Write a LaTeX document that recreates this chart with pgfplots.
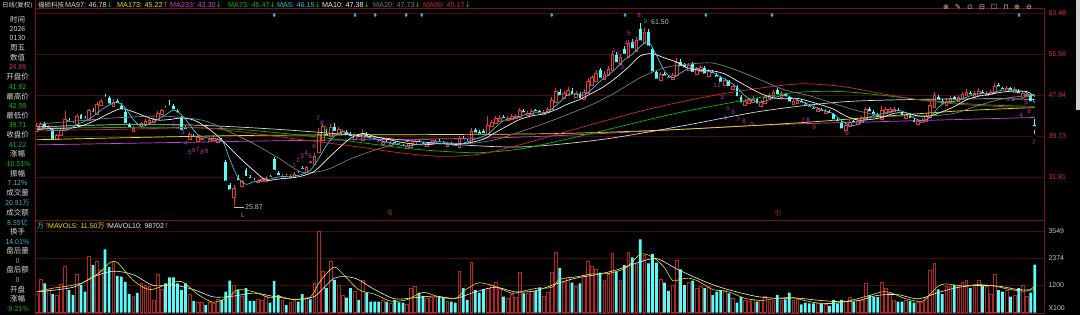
\documentclass[border=0pt]{standalone}
\usepackage{pgfplots}
\pgfplotsset{compat=1.18}
\usepackage{pgfplotstable}
\usepackage{fontspec}
\setmainfont{Liberation Sans}
\newfontfamily\cjk{Noto Sans CJK SC}
\newfontfamily\djv{DejaVu Sans}
\definecolor{candred}{RGB}{230,55,55}
\definecolor{candcyan}{RGB}{84,252,252}
\definecolor{volred}{RGB}{180,36,36}
\definecolor{frame}{RGB}{120,20,20}
\definecolor{gridc}{RGB}{72,12,12}
\definecolor{lblred}{RGB}{215,50,50}
\definecolor{lblgray}{RGB}{192,192,192}
\definecolor{txtw}{RGB}{215,215,215}
\definecolor{txtg}{RGB}{0,200,0}
\definecolor{txtc}{RGB}{60,190,200}
\definecolor{maW}{RGB}{215,215,215}
\definecolor{maY}{RGB}{230,230,0}
\definecolor{maM}{RGB}{210,60,210}
\definecolor{maG}{RGB}{0,190,0}
\definecolor{ma5}{RGB}{60,190,220}
\definecolor{ma10}{RGB}{240,240,240}
\definecolor{ma20}{RGB}{110,130,120}
\definecolor{ma60}{RGB}{210,40,40}
\definecolor{td}{RGB}{190,60,200}
\definecolor{tdr}{RGB}{230,60,100}
\definecolor{diam}{RGB}{70,170,210}

\pgfplotstableread{
i o h l c v
0 40.6 42.2 40.3 41.6 800
1 41.0 42.5 40.8 42.0 1450
3 40.9 41.9 40.6 41.5 980
5 39.0 40.2 38.6 39.8 760
6 39.8 41.3 39.5 40.9 1240
7 40.9 44.5 40.7 43.0 2020
10 41.9 44.0 41.5 43.5 1680
13 42.8 45.0 42.5 44.6 2430
15 44.0 46.3 43.8 45.8 2220
16 45.6 46.8 45.2 46.4 1850
19 45.5 46.8 45.1 46.3 2220
24 40.6 41.6 40.3 41.2 690
26 41.6 42.5 41.3 42.2 1270
27 42.0 43.0 41.8 42.6 1200
28 42.4 43.2 42.1 42.8 1130
29 42.4 43.3 42.2 42.9 550
30 42.9 44.6 42.7 44.2 1680
31 44.0 45.0 43.7 44.6 1000
38 39.0 40.4 38.8 40.0 800
40 38.8 39.9 38.6 39.5 430
41 39.0 39.8 38.7 39.3 430
43 38.8 39.5 38.6 39.1 430
44 38.9 39.9 38.7 39.2 400
45 38.5 39.4 38.2 39.0 580
49 27.9 30.2 25.87 29.6 1200
51 30.0 31.3 29.7 30.9 700
55 30.7 31.4 30.4 31.0 580
56 30.9 31.7 30.6 31.3 550
57 31.0 32.0 30.8 31.6 690
61 31.5 32.3 31.3 31.9 550
63 31.7 32.4 31.5 32.0 430
64 31.8 32.8 31.6 32.4 580
67 32.8 34.0 32.5 33.6 650
69 34.3 36.4 34.0 35.9 1270
70 36.6 41.2 36.2 40.0 3550
71 38.9 42.0 38.5 41.6 1810
73 39.6 42.0 39.3 41.4 2220
75 40.2 41.4 39.8 41.0 1200
76 40.1 41.0 39.8 40.6 760
79 39.0 40.3 38.7 39.8 910
81 38.9 41.0 38.6 40.3 1420
86 38.2 39.0 37.9 38.6 550
88 38.0 38.8 37.7 38.4 400
92 37.3 38.1 37.0 37.7 380
93 37.6 38.7 37.3 38.3 1060
94 38.2 39.2 37.9 38.8 1160
97 37.8 38.6 37.5 38.2 630
98 38.1 38.9 37.8 38.5 670
99 38.3 39.1 38.0 38.7 670
102 37.8 38.6 37.5 38.2 480
105 37.5 39.8 37.3 39.2 1780
108 38.5 41.2 38.3 40.6 2170
112 40.0 43.6 39.8 41.8 1060
113 41.6 42.8 41.3 42.4 1200
114 42.2 43.6 42.0 43.1 1340
115 42.6 43.7 42.3 43.2 1060
117 42.7 43.6 42.4 43.2 630
118 43.0 43.9 42.7 43.5 820
119 43.2 44.0 42.9 43.6 670
120 43.4 45.2 43.1 44.6 1740
122 43.7 44.6 43.4 44.2 840
123 44.0 44.9 43.7 44.5 910
126 43.9 44.8 43.6 44.4 690
127 44.3 45.3 44.0 44.9 870
128 44.8 47.2 44.5 46.6 1740
129 46.3 49.0 46.0 48.4 2620
131 47.0 48.4 46.7 47.9 1340
132 47.6 49.2 47.3 48.6 1530
134 47.3 48.5 47.0 48.0 1130
136 46.8 48.8 46.5 48.2 1640
137 48.0 50.9 47.7 50.2 2220
138 49.6 51.6 49.2 51.0 2030
139 50.3 52.4 50.0 51.8 1880
141 50.6 52.2 50.3 51.6 1420
142 51.4 53.2 51.0 52.6 1680
143 52.4 56.2 52.1 55.6 2570
145 53.5 55.6 53.1 55.0 1420
147 54.9 58.2 54.6 57.6 2620
149 56.0 58.9 55.7 58.2 2110
151 57.6 60.6 57.2 59.8 2500
155 50.4 52.1 50.1 51.6 1450
158 50.6 51.8 50.3 51.4 1200
159 51.4 54.8 51.1 54.0 2260
162 52.4 53.9 52.1 53.4 1340
164 51.6 53.0 51.2 52.6 1060
165 52.3 53.5 52.0 53.0 1130
167 51.3 52.7 51.0 52.2 1130
171 49.6 50.9 49.3 50.4 980
173 48.8 49.8 48.5 49.4 630
176 45.6 46.9 45.3 46.4 550
177 46.0 47.0 45.7 46.6 480
178 46.2 47.4 45.9 46.9 580
180 45.5 46.7 45.2 46.2 550
181 46.0 47.7 45.7 47.2 690
182 47.0 48.1 46.7 47.6 510
183 47.4 48.7 47.1 48.2 550
185 47.3 48.4 47.0 48.0 550
188 45.9 46.8 45.6 46.4 550
189 46.1 47.0 45.8 46.6 580
194 44.5 45.3 44.2 44.9 400
196 44.1 44.9 43.8 44.5 380
201 40.8 42.2 40.5 41.8 480
202 41.6 42.9 41.3 42.4 670
204 41.9 43.0 41.6 42.6 550
205 42.4 43.6 42.1 43.2 550
206 43.0 45.4 42.8 44.8 1270
210 43.0 45.6 42.7 44.6 1340
211 44.2 45.3 43.9 44.8 1060
212 44.4 45.4 44.1 44.9 840
213 44.5 45.3 44.2 44.9 550
216 43.2 44.1 42.9 43.7 550
219 41.9 42.9 41.6 42.5 430
220 42.3 43.2 42.0 42.8 430
221 42.6 44.0 42.3 43.6 670
222 43.4 46.2 43.1 45.6 1850
223 45.2 48.3 44.9 47.6 2140
226 45.6 47.0 45.3 46.5 1160
227 46.3 47.5 46.0 47.0 1130
229 46.4 47.7 46.1 47.2 1130
230 47.0 48.3 46.7 47.8 1340
231 47.5 48.8 47.2 48.2 1420
233 47.3 48.4 47.0 47.9 1200
234 47.6 48.9 47.3 48.4 1390
236 47.5 48.4 47.2 48.0 1130
237 47.8 48.6 47.5 48.2 800
238 48.2 49.9 47.9 49.4 1680
241 48.3 49.3 48.0 48.9 980
243 48.2 49.1 47.9 48.7 760
245 47.2 48.5 46.9 48.0 1200
246 47.4 48.3 47.1 47.87 720
}\up

\pgfplotstableread{
i o h l c v
2 42.0 42.4 40.6 41.0 1270
4 41.0 41.2 38.2 38.6 800
8 42.9 43.2 42.0 42.3 980
9 42.3 42.6 41.6 41.9 760
11 43.7 44.0 42.2 42.6 1190
12 43.2 43.6 42.4 42.7 910
14 44.6 45.2 43.6 44.0 2070
17 47.3 47.9 46.2 46.9 2750
18 47.1 47.5 45.2 45.6 1990
20 46.4 46.9 45.4 45.8 1600
21 45.6 46.0 44.2 44.5 1560
22 44.4 44.7 41.4 41.8 1340
23 41.8 42.2 40.7 41.0 800
25 42.0 42.3 41.2 41.6 860
32 45.2 45.6 44.5 44.8 1270
33 45.6 46.7 44.9 45.2 1530
34 45.6 45.9 44.2 44.5 1530
35 44.6 44.9 43.5 43.9 1270
36 43.4 43.6 40.1 40.5 980
37 41.3 41.7 40.3 40.7 1270
39 39.8 40.1 38.9 39.2 510
42 39.2 39.5 38.6 38.9 330
46 38.9 39.3 38.1 38.4 550
47 34.6 35.0 30.4 30.7 910
48 30.3 30.6 28.6 29.0 1390
50 31.6 32.1 30.4 30.8 980
52 33.2 33.5 31.2 31.6 1060
53 31.8 32.2 30.9 31.2 510
54 31.3 31.6 30.5 30.8 510
58 31.9 32.2 31.2 31.5 430
59 35.3 35.6 32.5 32.8 1380
60 32.6 32.9 31.5 31.8 760
62 32.1 32.4 31.5 31.8 330
65 32.6 32.9 31.9 32.2 480
66 33.6 33.9 32.7 33.0 800
68 34.6 34.9 33.8 34.2 580
72 40.2 41.0 39.0 39.4 1080
74 41.4 42.2 40.0 40.3 1420
77 40.5 40.9 39.4 39.7 650
78 40.1 40.5 38.9 39.3 1060
80 39.7 40.0 38.8 39.1 550
82 40.0 40.4 39.0 39.3 860
83 39.4 39.7 38.6 38.9 480
84 39.0 39.3 38.3 38.6 480
85 38.8 39.0 38.0 38.3 480
87 38.6 38.9 37.8 38.1 480
89 38.5 38.8 37.7 38.0 550
90 38.1 38.4 37.4 37.7 450
91 37.8 38.1 37.1 37.4 430
95 38.8 39.1 37.9 38.2 870
96 38.3 38.6 37.5 37.8 720
100 38.8 39.1 38.0 38.3 670
101 38.4 38.7 37.6 37.9 670
103 38.2 38.5 37.5 37.8 480
104 37.9 38.2 37.2 37.5 430
106 39.4 39.8 38.4 38.7 1060
107 38.8 39.1 38.1 38.4 550
109 40.8 41.2 39.6 40.0 980
110 40.4 40.8 39.5 39.8 870
111 40.6 41.0 39.6 39.9 1010
116 43.4 43.8 42.5 42.8 690
121 44.5 44.9 43.5 43.9 840
124 44.7 45.0 43.8 44.1 950
125 44.5 44.8 43.6 43.9 1100
130 48.3 48.8 46.8 47.2 1930
133 48.5 48.9 47.0 47.4 1300
135 47.9 48.2 46.2 46.6 1270
140 52.4 52.9 50.2 50.6 1740
144 55.4 55.9 53.2 53.6 1780
146 56.6 57.2 54.8 55.2 2070
148 57.8 58.4 55.9 56.3 2400
150 60.4 61.5 57.4 57.8 3180
152 59.9 60.4 56.3 56.8 2140
153 56.6 57.0 51.4 51.8 2550
154 52.0 52.5 50.0 50.4 2170
156 51.7 52.0 50.6 51.0 1300
157 51.2 51.5 50.3 50.6 950
160 54.1 54.6 52.4 52.8 1880
161 53.4 53.8 52.2 52.6 1200
163 53.6 54.0 51.3 51.7 1390
166 52.9 53.3 51.0 51.4 1060
168 52.1 52.4 51.1 51.5 760
169 51.6 51.9 50.5 50.8 910
170 51.0 51.3 49.4 49.8 980
172 50.3 50.6 48.6 49.0 840
174 49.2 49.5 46.6 47.0 430
175 47.2 47.6 45.4 45.8 670
179 46.8 47.1 45.2 45.6 480
184 48.6 49.0 47.0 47.4 760
186 47.8 48.1 46.6 47.0 580
187 47.2 47.5 45.6 46.0 870
190 46.5 46.8 45.5 45.8 360
191 45.9 46.2 45.1 45.4 430
192 45.5 45.8 44.7 45.0 400
193 45.1 45.4 44.3 44.6 400
195 44.8 45.1 43.9 44.2 400
197 44.4 44.7 43.5 43.8 290
198 43.9 44.2 42.2 42.6 550
199 42.8 43.1 41.8 42.2 400
200 42.3 42.6 40.4 40.8 550
203 42.6 42.9 41.6 42.0 480
207 44.9 45.3 43.7 44.1 760
208 44.4 44.7 43.2 43.6 670
209 43.8 44.1 42.6 43.0 670
214 44.8 45.1 43.9 44.2 480
215 44.3 44.6 43.0 43.4 480
217 43.6 43.9 42.4 42.8 510
218 42.9 43.2 41.6 42.0 430
224 47.3 47.6 46.0 46.4 1010
225 46.5 46.8 45.2 45.6 800
228 47.2 47.5 46.0 46.4 1200
232 48.1 48.4 47.0 47.4 1060
235 48.3 48.6 47.2 47.6 1160
239 49.6 49.9 48.5 48.9 980
240 48.9 49.2 48.0 48.4 910
242 48.9 49.2 47.8 48.2 690
244 48.5 48.8 47.2 47.6 1060
247 47.6 47.9 45.7 46.06 870
248 41.82 42.99 39.71 41.22 2091
}\dn

\pgfplotsset{
  pricebox/.style={at={(35pt,95pt)}, anchor=south west, scale only axis,
    width=1009pt, height=212pt, xmin=-0.42, xmax=250.3, ymin=23.49, ymax=64.45},
  volbox/.style={at={(35pt,2pt)}, anchor=south west, scale only axis,
    width=1009pt, height=93pt, xmin=-0.42, xmax=250.3, ymin=-17, ymax=4028},
}

\begin{document}
\begin{tikzpicture}
\fill[black] (0pt,0pt) rectangle (1080pt,315pt);
\useasboundingbox (0pt,0pt) rectangle (1080pt,315pt);

% ---------- price panel: frame, grid, wicks, cyan bodies
\begin{axis}[pricebox,
  axis line style={draw=frame, line width=0.8pt},
  xtick=\empty, ytick={31.81,39.73,47.64,55.56,63.48},
  yticklabels={31.81,39.73,47.64,55.56,63.48},
  yticklabel pos=right, major tick length=0pt,
  yticklabel style={font=\fontsize{7}{8}\selectfont, text=lblred, anchor=west, xshift=1pt},
  ymajorgrids, grid style={gridc, solid, line width=0.5pt}]
\addplot[only marks, mark=none, error bars/.cd, y dir=plus, y explicit, error mark=none,
  error bar style={draw=candred, line width=0.7pt, solid}]
  table[x=i, y=l, y error expr=\thisrow{h}-\thisrow{l}] {\up};
\addplot[only marks, mark=none, error bars/.cd, y dir=plus, y explicit, error mark=none,
  error bar style={draw=candcyan, line width=0.7pt, solid}]
  table[x=i, y=l, y error expr=\thisrow{h}-\thisrow{l}] {\dn};
\addplot[only marks, mark=none, error bars/.cd, y dir=plus, y explicit, error mark=none,
  error bar style={draw=candcyan, line width=2.8pt, solid}]
  table[x=i, y=c, y error expr=\thisrow{o}-\thisrow{c}] {\dn};
\end{axis}

% ---------- hollow red bodies
\begin{axis}[pricebox, hide axis, ybar stacked, bar width=0.68]
\addplot[draw=none, fill=none] table[x=i, y=o] {\up};
\addplot[draw=candred, fill=black, line width=0.5pt] table[x=i, y expr=\thisrow{c}-\thisrow{o}] {\up};
\end{axis}

% ---------- moving averages and event markers
\begin{axis}[pricebox, hide axis]
\addplot[maM, line width=0.7pt, smooth] coordinates {(0,38.0)(60,38.8)(120,39.5)(180,41.8)(210,42.5)(248,43.30)};
\addplot[maY, line width=0.7pt, smooth] coordinates {(0,39.0)(50,39.8)(100,40.0)(130,40.2)(160,41.0)(190,42.3)(210,43.5)(230,44.6)(248,45.22)};
\addplot[maW, line width=0.7pt, smooth] coordinates {(0,41.5)(20,41.9)(40,41.8)(60,41.0)(80,39.8)(100,38.3)(120,37.6)(140,39.0)(160,41.6)(180,44.5)(200,46.3)(220,46.8)(240,46.9)(248,46.78)};
\addplot[maG, line width=0.7pt, smooth] coordinates {(0,41.2)(30,41.4)(50,41.0)(70,39.5)(90,37.5)(100,36.8)(110,36.5)(120,37.2)(130,38.8)(140,40.6)(150,42.5)(160,44.3)(170,45.8)(180,47.2)(190,48.2)(200,48.3)(210,47.6)(220,46.7)(230,46.0)(240,45.6)(248,45.47)};
\addplot[ma60, line width=0.7pt, smooth] coordinates {(0,40.8)(20,41.0)(40,41.3)(50,40.6)(60,39.6)(70,38.6)(80,37.6)(90,36.5)(100,35.8)(110,36.2)(120,38.0)(130,40.2)(140,42.4)(150,44.5)(160,46.3)(170,47.8)(180,49.0)(190,49.8)(200,49.3)(210,47.9)(220,46.6)(230,45.8)(240,45.4)(248,45.17)};
\addplot[ma20, line width=0.7pt, smooth] coordinates {(0,42.0)(8,42.5)(14,42.9)(19,43.2)(24,43.4)(30,43.6)(36,43.3)(42,42.6)(48,40.5)(54,38.2)(60,35.5)(66,32.7)(72,33.2)(78,35.3)(84,37.0)(90,38.3)(96,39.1)(102,38.4)(108,38.3)(114,39.0)(120,40.5)(126,42.1)(132,43.9)(138,45.8)(144,48.2)(150,51.0)(156,52.9)(162,53.6)(168,53.8)(174,52.4)(180,50.5)(186,48.6)(192,47.5)(198,46.0)(204,44.6)(210,43.6)(216,43.6)(222,43.6)(228,44.1)(234,45.6)(240,46.9)(248,47.73)};
\addplot[ma10, line width=0.7pt, smooth] coordinates {(0,41.0)(4,41.2)(9,41.3)(12,41.9)(15,42.9)(18,44.1)(21,45.0)(24,44.4)(27,43.5)(30,42.8)(33,42.9)(36,43.2)(39,42.8)(42,41.5)(45,39.7)(48,37.4)(51,35.1)(54,33.0)(57,31.2)(60,31.4)(63,31.6)(66,32.0)(69,32.9)(72,35.1)(75,37.3)(78,39.3)(81,40.2)(84,39.6)(87,39.1)(90,38.6)(93,38.2)(96,38.0)(99,38.2)(102,38.2)(105,38.2)(108,38.5)(111,39.1)(114,40.4)(117,41.7)(120,42.9)(123,43.6)(126,44.0)(129,44.8)(132,45.9)(135,46.8)(138,48.0)(141,49.3)(144,51.0)(147,53.0)(150,55.2)(153,55.6)(156,54.8)(159,54.0)(162,52.8)(165,52.4)(168,52.3)(171,51.7)(174,50.4)(177,49.1)(180,47.9)(183,47.1)(186,46.9)(189,47.0)(192,46.4)(195,45.7)(198,44.9)(201,43.6)(204,42.8)(207,42.9)(210,43.3)(213,44.1)(216,44.2)(219,43.6)(222,43.6)(225,44.4)(228,45.4)(231,46.7)(234,47.4)(237,47.8)(240,48.2)(243,48.4)(246,48.3)(248,47.38)};
\addplot[ma5, line width=0.7pt, smooth] coordinates {(0,41.2)(2,41.3)(4,40.9)(6,40.8)(8,41.0)(10,41.9)(12,42.6)(14,43.5)(16,44.7)(18,45.7)(20,46.2)(22,45.2)(24,42.9)(26,41.6)(28,42.1)(30,42.9)(32,43.8)(34,44.7)(36,43.8)(38,41.9)(40,40.0)(42,39.4)(44,39.2)(46,38.9)(47,37.3)(48,35.2)(50,31.7)(52,30.4)(54,30.9)(56,31.2)(58,31.4)(60,31.8)(62,31.9)(64,32.0)(66,32.3)(68,33.1)(70,35.3)(72,37.9)(74,39.7)(76,40.5)(78,40.1)(80,39.6)(82,39.5)(84,39.2)(86,38.7)(88,38.4)(90,38.0)(92,37.8)(94,38.0)(96,38.2)(98,38.3)(100,38.3)(102,38.2)(104,37.9)(106,38.3)(108,38.9)(110,39.4)(112,40.0)(114,41.4)(116,42.7)(118,43.1)(120,43.5)(122,44.0)(124,44.2)(126,44.2)(128,44.9)(130,46.3)(132,47.7)(134,47.8)(136,47.6)(138,48.8)(140,50.3)(142,51.5)(144,52.8)(146,54.4)(148,55.5)(150,57.0)(152,57.9)(154,55.3)(156,52.3)(158,51.0)(160,51.9)(162,52.8)(164,52.8)(166,52.4)(168,52.0)(170,51.1)(172,50.3)(174,49.1)(176,47.5)(178,46.5)(180,46.3)(182,46.7)(184,47.3)(186,47.6)(188,47.0)(190,46.4)(192,45.8)(194,45.1)(196,44.6)(198,44.0)(200,42.7)(202,41.8)(204,41.9)(206,43.0)(208,43.7)(210,44.0)(212,44.4)(214,44.7)(216,44.2)(218,43.2)(220,42.7)(222,43.3)(224,45.2)(226,46.3)(228,46.4)(230,46.9)(232,47.5)(234,47.9)(236,47.9)(238,48.2)(240,48.6)(242,48.6)(244,48.4)(246,48.1)(248,46.15)};
\addplot[only marks, mark=diamond*, mark size=1.7pt, diam] coordinates {(59,63.1)(79.1,63.1)(84.1,63.1)(91.8,63.1)(95.7,63.1)(128,63.1)(146.2,63.1)(166.3,63.1)(182.7,63.1)(244.1,63.1)};
\end{axis}

% ---------- volume panel
\begin{axis}[volbox,
  axis line style={draw=frame, line width=0.8pt},
  xtick=\empty, ytick={1200,2374,3549}, yticklabels={1200,2374,3549},
  extra y ticks={200}, extra y tick labels={X100}, extra y tick style={grid=none},
  yticklabel pos=right, major tick length=0pt,
  yticklabel style={font=\fontsize{7}{8}\selectfont, text=lblgray, anchor=west, xshift=1pt},
  ymajorgrids, grid style={gridc, solid, line width=0.5pt}]
\addplot[ybar, bar width=0.68, bar shift=0pt, draw=volred, fill=black, line width=0.5pt] table[x=i, y=v] {\up};
\addplot[ybar, bar width=0.68, bar shift=0pt, draw=none, fill=candcyan] table[x=i, y=v] {\dn};
\addplot[ma10, line width=0.6pt, smooth] coordinates {(0,900)(9,1100)(14,1550)(19,1800)(24,1650)(29,1180)(34,1200)(39,1000)(44,680)(49,720)(54,850)(59,700)(64,580)(69,700)(74,1500)(79,1500)(84,1000)(89,600)(94,650)(99,720)(104,620)(109,900)(114,1100)(119,900)(124,950)(129,1250)(134,1500)(139,1650)(144,1850)(149,2150)(154,2350)(159,1900)(164,1500)(169,1150)(174,900)(179,700)(184,620)(189,630)(194,540)(199,480)(204,520)(209,750)(214,780)(219,600)(224,870)(229,1100)(234,1180)(239,1150)(244,1000)(248,987)};
\addplot[maY, line width=0.6pt, smooth] coordinates {(0,900)(4,1060)(8,1160)(12,1340)(16,1800)(18,2150)(20,2180)(24,1400)(28,1000)(32,1200)(36,1350)(40,800)(44,450)(48,720)(50,1000)(54,900)(58,640)(60,720)(64,560)(68,680)(70,1250)(72,1700)(74,1980)(76,1700)(80,1000)(84,800)(88,500)(92,560)(96,880)(100,680)(104,610)(106,920)(108,1150)(110,1300)(114,1140)(118,840)(120,900)(124,1050)(128,1100)(130,1450)(134,1550)(138,1680)(142,1700)(146,1900)(148,2200)(150,2550)(152,2500)(154,2300)(156,1950)(158,1400)(160,1450)(162,1500)(164,1400)(166,1200)(168,1000)(172,900)(176,620)(180,530)(184,620)(188,660)(190,560)(194,420)(198,400)(202,520)(206,700)(208,800)(210,900)(212,880)(216,600)(220,490)(222,800)(224,1150)(226,1250)(230,1160)(234,1220)(238,1150)(242,1000)(246,940)(248,1150)};
\end{axis}

% ---------- texts (pixel coordinates, y downwards)
\begin{scope}[shift={(0pt,315pt)}, x=1pt, y=-1pt]
\fill[lblgray!70] (1076,0) rectangle (1080,110);
\draw[frame, line width=0.8pt] (35,0) -- (35,315);
% header
\node[anchor=west, inner sep=0pt, text=txtw, font=\cjk\fontsize{6.5}{7}\selectfont] at (2,5) {日线(复权)};
\node[anchor=west, inner sep=0pt, text=txtw, font=\cjk\fontsize{6.5}{7}\selectfont] at (38,5) {福硕科技};
\begin{scope}[every node/.style={anchor=west, inner sep=0pt, font=\fontsize{7.2}{8}\selectfont}]
\node[text=maW] at (65,5) {MA97: 46.78{\djv\textcolor{txtg}{↓}}};
\node[text=maY] at (117,5) {MA173: 45.22{\djv\textcolor{candred}{↑}}};
\node[text=maM] at (170,5) {MA233: 43.30{\djv\textcolor{txtg}{↓}}};
\node[text=maG] at (228,5) {MA73: 45.47{\djv\textcolor{txtg}{↓}}};
\node[text=ma5] at (277,5) {MA5: 46.15{\djv\textcolor{txtg}{↓}}};
\node[text=ma10] at (322,5) {MA10: 47.38{\djv\textcolor{txtg}{↓}}};
\node[text=ma20] at (373,5) {MA20: 47.73{\djv\textcolor{txtg}{↓}}};
\node[text=ma60] at (423,5) {MA60: 45.17{\djv\textcolor{txtg}{↓}}};
\end{scope}
\begin{scope}[every node/.style={anchor=west, inner sep=0pt, font=\fontsize{7}{8}\selectfont}]
\node[text=txtc] at (37,226) {\cjk 万{\djv\textcolor{candred}{↑}}};
\node[text=maY] at (48,226) {MAVOL5: 11.50{\cjk 万}{\djv\textcolor{candred}{↑}}};
\node[text=ma10] at (108,226) {MAVOL10: 98702{\djv\textcolor{candred}{↑}}};
\end{scope}
% toolbar icons
\begin{scope}[every node/.style={inner sep=0pt, text=lblgray!80, font=\djv\fontsize{7}{8}\selectfont}]
\node at (946,7) {⊗}; \node at (958,7) {✎}; \node at (970,7) {⊙}; \node at (982,7) {⊟};
\node at (994,7) {☐}; \node at (1006,7) {⊓}; \node at (1017,7) {⊕}; \node at (1029,7) {⊖};
\end{scope}
% left info panel
\begin{scope}[every node/.style={inner sep=0pt}]
\def\L#1#2{\node[text=txtw, font=\cjk\fontsize{7.5}{8}\selectfont] at (17.5,#1) {#2};}
\def\V#1#2#3{\node[text=#2, font=\cjk\fontsize{7}{7}\selectfont] at (17.5,#1) {#3};}
\L{20}{时间} \V{29}{txtw}{2026} \V{38}{txtw}{0130} \L{48}{周五} \L{58}{数值}
\V{67}{lblred}{24.88} \L{77}{开盘价} \V{87}{txtg}{41.82} \L{97}{最高价} \V{106}{txtg}{42.99}
\L{116}{最低价} \V{125}{txtg}{39.71} \L{135}{收盘价} \V{145}{txtg}{41.22} \L{154}{涨幅}
\V{164}{txtg}{-10.51\%} \L{174}{振幅} \V{183}{txtc}{7.12\%} \L{193}{成交量} \V{203}{txtc}{20.91万}
\L{213}{成交额} \V{223}{txtc}{8.55亿} \L{232}{换手} \V{242}{txtc}{14.01\%} \L{251}{盘后量}
\V{261}{txtc}{0} \L{270}{盘后额} \V{280}{txtc}{0} \L{290}{开盘} \L{299}{涨幅} \V{309}{txtg}{-9.21\%}
\end{scope}
% price annotations
\node[anchor=west, inner sep=0pt, text=lblgray, font=\fontsize{7}{8}\selectfont] at (651,22) {61.50};
\node[inner sep=0pt, text=txtg, font=\fontsize{6}{6}\selectfont] at (645.5,21) {9};
\draw[lblgray, line width=0.5pt] (234,207.5) -- (244,207.5);
\node[anchor=west, inner sep=0pt, text=lblgray, font=\fontsize{7}{8}\selectfont] at (245,207.5) {25.87};
\node[inner sep=0pt, text=txtc, font=\fontsize{6.5}{7}\selectfont] at (243,215) {L};
\node[inner sep=0pt, text=lblred, font=\fontsize{7}{8}\selectfont] at (390,213) {q};
\node[inner sep=0pt, text=lblred, font=\cjk\fontsize{6.5}{7}\selectfont] at (778,213) {引};
% TD sequence digits
\begin{scope}[every node/.style={inner sep=0pt, text=td, font=\fontsize{6.3}{6.3}\selectfont}]
\node at (174,124) {1}; \node at (178,127) {2}; \node at (183,132) {3}; \node at (186,143) {4};
\node at (190,152) {5}; \node at (194,150) {6}; \node at (198,149) {7}; \node at (202,152) {8};
\node[text=tdr] at (207,151) {9};
\node at (294,165) {1}; \node at (298,160) {2}; \node at (302,156) {3}; \node at (306,153) {4};
\node at (310,156) {5}; \node at (314,146) {6}; \node at (318,118) {7}; \node at (322,123) {8};
\node[text=txtg] at (326,129) {9};
\node at (614,50) {1}; \node at (618,53) {2}; \node at (622,67) {3}; \node at (626,43) {4};
\node at (629,33) {5}; \node at (633,42) {6}; \node at (638,40) {7}; \node at (639,15) {8};
\node at (715,85) {1}; \node at (719,85) {2}; \node at (722,97) {3}; \node at (725,118) {4};
\node at (728,108) {5}; \node at (733,112) {6}; \node at (738,119) {7}; \node at (744,121) {8};
\node[text=tdr] at (752,124) {9};
\node at (803,120) {7}; \node at (808,120) {8}; \node[text=tdr] at (814,127) {9};
\node[text=tdr] at (847,133) {9};
\node at (1008,99) {1}; \node at (1013,99) {2}; \node at (1021,115) {4}; \node at (1026,102) {5};
\node at (1029,111) {6}; \node at (1034,142) {7};
\end{scope}
\end{scope}
\end{tikzpicture}
\end{document}
